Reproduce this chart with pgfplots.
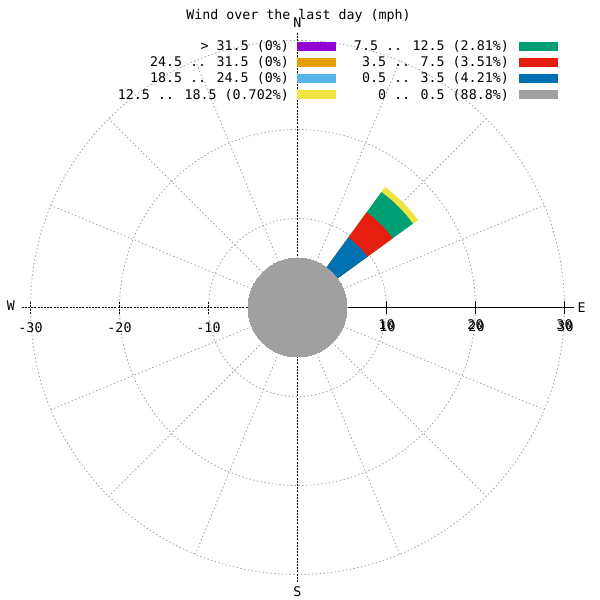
\documentclass[border=0pt]{standalone}
\usepackage{pgfplots}
\pgfplotsset{compat=1.18}
\usepackage{fontspec}
\setmainfont{DejaVu Sans Mono}
\definecolor{cPurple}{HTML}{9400D3}
\definecolor{cOrange}{HTML}{E69F00}
\definecolor{cSky}{HTML}{56B4E9}
\definecolor{cYellow}{HTML}{F0E442}
\definecolor{cGreen}{HTML}{009E73}
\definecolor{cRed}{HTML}{E51E10}
\definecolor{cBlue}{HTML}{0072B2}
\definecolor{cGray}{HTML}{A0A0A0}
\tikzset{gridl/.style={cGray, line width=0.8pt, dash pattern=on 1.4pt off 2.4pt},
  axd/.style={black, line width=0.9pt, dash pattern=on 2pt off 1.2pt}}
\begin{document}
\begin{tikzpicture}[font=\fontsize{13.3}{16}\selectfont]
\begin{axis}[scale only axis, width=600pt, height=600pt,
  xmin=-33.427, xmax=33.989, ymin=-32.865, ymax=34.551,
  hide axis, clip=false]
\path (rel axis cs:0,0) rectangle (rel axis cs:1,1);
% polar grid
\draw[gridl] (axis cs:0,0) circle[radius=10];
\draw[gridl] (axis cs:0,0) circle[radius=20];
\draw[gridl] (axis cs:0,0) circle[radius=30];
\pgfplotsinvokeforeach{22.5,45,67.5,112.5,135,157.5,202.5,225,247.5,292.5,315,337.5}{
  \draw[gridl] (axis cs:0,0) -- (axis cs:{30*cos(#1)},{30*sin(#1)});
}
% dashed axes
\draw[axd] (axis cs:-31,0) -- (axis cs:0,0);
\draw[axd] (axis cs:0,-30.84) -- (axis cs:0,30.84);
% wind rose sectors (direction NE, stacked by speed class)
\addplot[fill=cYellow, draw=none, data cs=polar] coordinates {(0,0) (36,16.73) (38,16.73) (40,16.73) (42,16.73) (44,16.73) (46,16.73) (48,16.73) (50,16.73) (52,16.73) (54,16.73)} -- cycle;
\addplot[fill=cGreen, draw=none, data cs=polar] coordinates {(0,0) (36,16.03) (38,16.03) (40,16.03) (42,16.03) (44,16.03) (46,16.03) (48,16.03) (50,16.03) (52,16.03) (54,16.03)} -- cycle;
\addplot[fill=cRed, draw=none, data cs=polar] coordinates {(0,0) (36,13.22) (38,13.22) (40,13.22) (42,13.22) (44,13.22) (46,13.22) (48,13.22) (50,13.22) (52,13.22) (54,13.22)} -- cycle;
\addplot[fill=cBlue, draw=none, data cs=polar] coordinates {(0,0) (36,9.71) (38,9.71) (40,9.71) (42,9.71) (44,9.71) (46,9.71) (48,9.71) (50,9.71) (52,9.71) (54,9.71)} -- cycle;
% calm circle
\addplot[only marks, color=cGray, mark=*, mark size=49.5pt, mark options={fill=cGray, draw=cGray, line width=0pt}] coordinates {(0,0)};
% solid east axis and ticks
\draw[black, line width=0.9pt] (axis cs:0,0) -- (axis cs:31.07,0);
\pgfplotsinvokeforeach{10,20,30}{
  \draw[black, line width=0.9pt] ([yshift=-6.3pt]axis cs:#1,0) -- ([yshift=6.3pt]axis cs:#1,0);
  \draw[axd] ([yshift=-6.3pt]axis cs:-#1,0) -- ([yshift=6.3pt]axis cs:-#1,0);
}
\end{axis}
% labels in pixel coordinates (1pt = 1px)
\node[anchor=base, inner sep=0pt] at (298.5pt,580pt) {Wind over the last day (mph)};
\node[inner sep=0pt] at (297.5pt,577.5pt) {N};
\node[inner sep=0pt] at (297.5pt,8.5pt) {S};
\node[inner sep=0pt] at (11pt,294pt) {W};
\node[inner sep=0pt] at (581.5pt,292pt) {E};
% tick labels
\node[inner sep=0pt] at (208.5pt,272pt) {-10};
\node[inner sep=0pt] at (119.5pt,272pt) {-20};
\node[inner sep=0pt] at (30.5pt,272pt) {-30};
\foreach \v/\p in {10/386.5,20/475.5,30/564.5}{
  \node[inner sep=0pt] at (\p pt,275.5pt) {\v};
  \node[inner sep=0pt] at (\p pt+1pt,273pt) {\v};
}
% legend, left column
\node[anchor=base east, inner sep=0pt] at (289pt,{(600-50.8)*1pt}) {> 31.5 (0\%)};
\fill[cPurple] (297pt,{(600-50.7)*1pt}) rectangle (336pt,{(600-41.7)*1pt});
\node[anchor=base east, inner sep=0pt] at (289pt,{(600-67)*1pt}) {24.5 .. 31.5 (0\%)};
\fill[cOrange] (297pt,{(600-66.9)*1pt}) rectangle (336pt,{(600-57.9)*1pt});
\node[anchor=base east, inner sep=0pt] at (289pt,{(600-83)*1pt}) {18.5 .. 24.5 (0\%)};
\fill[cSky] (297pt,{(600-82.9)*1pt}) rectangle (336pt,{(600-73.9)*1pt});
\node[anchor=base east, inner sep=0pt] at (289pt,{(600-99.1)*1pt}) {12.5 .. 18.5 (0.702\%)};
\fill[cYellow] (297pt,{(600-99)*1pt}) rectangle (336pt,{(600-90)*1pt});
% legend, right column
\node[anchor=base east, inner sep=0pt] at (509pt,{(600-50.8)*1pt}) {7.5 .. 12.5 (2.81\%)};
\fill[cGreen] (519pt,{(600-50.7)*1pt}) rectangle (558pt,{(600-41.7)*1pt});
\node[anchor=base east, inner sep=0pt] at (509pt,{(600-67)*1pt}) {3.5 .. 7.5 (3.51\%)};
\fill[cRed] (519pt,{(600-66.9)*1pt}) rectangle (558pt,{(600-57.9)*1pt});
\node[anchor=base east, inner sep=0pt] at (509pt,{(600-83)*1pt}) {0.5 .. 3.5 (4.21\%)};
\fill[cBlue] (519pt,{(600-82.9)*1pt}) rectangle (558pt,{(600-73.9)*1pt});
\node[anchor=base east, inner sep=0pt] at (509pt,{(600-99.1)*1pt}) {0 .. 0.5 (88.8\%)};
\fill[cGray] (519pt,{(600-99)*1pt}) rectangle (558pt,{(600-90)*1pt});
\end{tikzpicture}
\end{document}
